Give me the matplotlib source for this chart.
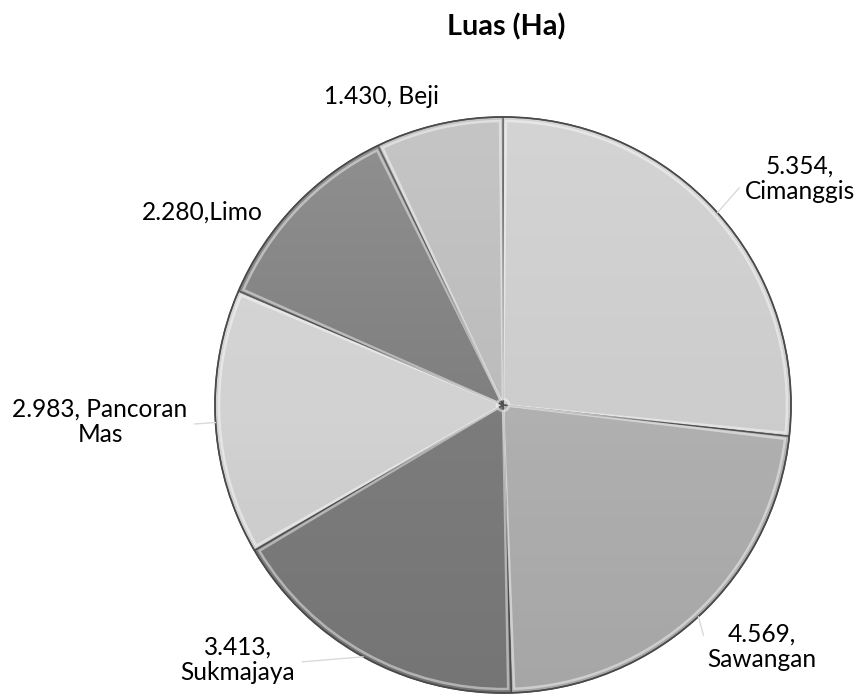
import numpy as np
import matplotlib.pyplot as plt
from matplotlib.patches import Circle, Wedge

plt.rcParams['font.family'] = ['Lato', 'DejaVu Sans']

# data, clockwise from 12 o'clock
labels = ['Cimanggis', 'Sawangan', 'Sukmajaya', 'Pancoran Mas', 'Limo', 'Beji']
luas = [5.354, 4.569, 3.413, 2.983, 2.280, 1.430]
luas_text = ['5.354', '4.569', '3.413', '2.983', '2.280', '1.430']
colors = ['#cdcdcd', '#b0b0b0', '#7c7c7c', '#d2d2d2', '#7f7f7f', '#bcbcbc']

# label text as it sits on the chart, and label centres (px, from top-left)
label_text = ['5.354,\nCimanggis', '4.569,\nSawangan', '3.413,\nSukmajaya',
              '2.983, Pancoran\nMas', '2.280,Limo', '1.430, Beji']
label_pos = [(800, 179), (762, 647), (238, 660), (100, 422), (202, 212), (381, 97)]
leader = [True, True, True, True, False, False]

W, H = 859, 697
cx, cy, r = 503, 405, 288

fig = plt.figure(figsize=(W / 100, H / 100), dpi=100)
ax = fig.add_axes([0, 0, 1, 1])

wedges, _ = ax.pie(luas, colors=colors, startangle=90, counterclock=False,
                   center=(cx, H - cy), radius=r, frame=True,
                   wedgeprops=dict(edgecolor='#505050', linewidth=1.0))
ax.set_xlim(0, W)
ax.set_ylim(0, H)
ax.set_aspect('equal')
ax.axis('off')

# light top / dark bottom shading over the whole pie
g = np.linspace(1, -1, 256)[:, None]
shade = np.zeros((256, 1, 4))
shade[..., :3] = np.where(g[..., None] > 0, 1.0, 0.0)
shade[..., 3] = np.where(g > 0, 0.14 * g, 0.06 * -g)
im = ax.imshow(shade, extent=(cx - r, cx + r, H - cy - r, H - cy + r),
               aspect='auto', zorder=2)
im.set_clip_path(Circle((cx, H - cy), r, transform=ax.transData))

# bevel highlight inside each wedge
for w in wedges:
    ax.add_patch(Wedge((cx, H - cy), r - 4, w.theta1 + 0.6, w.theta2 - 0.6,
                       width=r - 10, facecolor='none', edgecolor='white',
                       linewidth=1.8, alpha=0.45, zorder=3))
ax.add_patch(Circle((cx, H - cy), r, facecolor='none', edgecolor='#4a4a4a',
                    linewidth=1.2, zorder=4))

# font sizes fitted to the widths measured on the reference
fig.canvas.draw()
rend = fig.canvas.get_renderer()
t = ax.text(0, 0, 'Cimanggis', fontsize=10)
lab_fs = 10 * 110 / t.get_window_extent(rend).width
t.remove()
t = ax.text(0, 0, 'Luas (Ha)', fontsize=10, fontweight='bold')
title_fs = 10 * 118 / t.get_window_extent(rend).width
t.remove()

for w, txt, (lx, ly), ld in zip(wedges, label_text, label_pos, leader):
    mid = np.deg2rad((w.theta1 + w.theta2) / 2)
    px = cx + r * np.cos(mid)
    py = H - cy + r * np.sin(mid)
    side = 0 if lx > cx else 1
    props = None
    if ld:
        props = dict(arrowstyle='-', color='#dadada', lw=1.0,
                     shrinkA=3, shrinkB=0, relpos=(side, 0.45))
    ax.annotate(txt, xy=(px, py), xytext=(lx, H - ly), ha='center', va='center',
                fontsize=lab_fs, linespacing=1.12, color='black',
                arrowprops=props, zorder=5)

ax.text(506, H - 35, 'Luas (Ha)', ha='center', va='baseline',
        fontsize=title_fs, fontweight='bold')

fig.savefig('out.png', dpi=100)
